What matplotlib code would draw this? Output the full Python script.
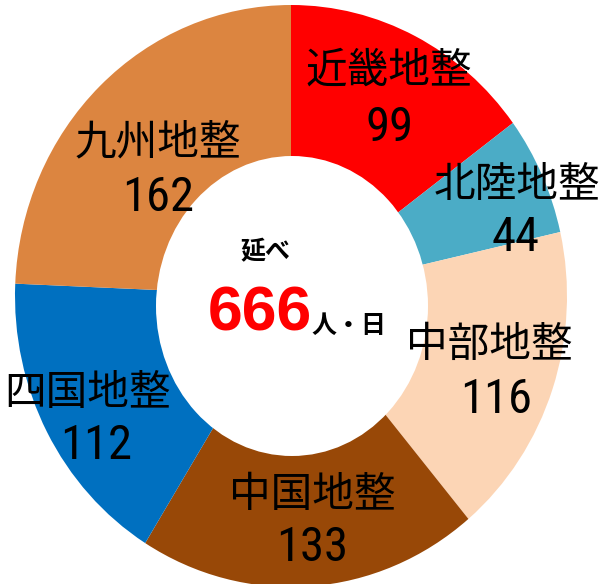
import matplotlib
matplotlib.use('Agg')
import matplotlib.pyplot as plt
from matplotlib import font_manager
from matplotlib.patches import Ellipse

# data
names = ['近畿地整', '北陸地整', '中部地整', '中国地整', '四国地整', '九州地整']
values = [99, 44, 116, 133, 112, 162]
colors = ['#FF0000', '#4BACC6', '#FCD5B5', '#984807', '#0070C0', '#DC8540']
total_label = '延べ'
unit_label = '人・日'

W, H = 599, 584
cx, cy = 291, 296      # pie centre, pixels
rx, ry = 276, 291      # outer radii, pixels

fig = plt.figure(figsize=(W / 100, H / 100), dpi=100)
ax = fig.add_axes([0, 0, 1, 1])
ax.pie(values, colors=colors, startangle=90, counterclock=False, radius=1,
       wedgeprops=dict(linewidth=0))
ax.set_aspect('auto')
ax.set_xlim(-cx / rx, (W - cx) / rx)
ax.set_ylim(-(H - cy) / ry, cy / ry)
# hole, slightly offset like the original
ax.add_patch(Ellipse(((292 - cx) / rx, -(306 - cy) / ry), 2 * 136 / rx, 2 * 150 / ry,
                     facecolor='white', edgecolor='none', zorder=5))
ax.axis('off')

cjk = ['Noto Sans CJK JP', 'DejaVu Sans']
installed = {f.name for f in font_manager.fontManager.ttflist}
num_font = [f for f in ['Liberation Sans Narrow', 'DejaVu Sans Condensed', 'Roboto Condensed',
                        'Liberation Sans'] if f in installed] or ['DejaVu Sans']

def px(x, y):
    return x / W, 1 - y / H

name_pos = [(389, 71), (517, 185), (489, 345), (312, 495), (88, 393), (158, 143)]
num_pos = [(390, 128), (516, 238), (496, 400), (312, 548), (96, 446), (158, 198)]

for n, v, p1, p2 in zip(names, values, name_pos, num_pos):
    fig.text(*px(*p1), n, fontsize=30, family=cjk, ha='center', va='center', zorder=10)
    fig.text(*px(*p2), str(v), fontsize=35, family=num_font, ha='center', va='center', zorder=10)

fig.text(*px(265, 252), total_label, fontsize=18, family=cjk, fontweight='bold',
         ha='center', va='center')
fig.text(*px(260, 314), str(sum(values)), fontsize=45, family=num_font[-1:], fontweight='bold',
         color='#FF0000', ha='center', va='center')
fig.text(*px(349, 326), unit_label, fontsize=18, family=cjk, fontweight='bold',
         ha='center', va='center')

fig.savefig('out.png', dpi=100)
